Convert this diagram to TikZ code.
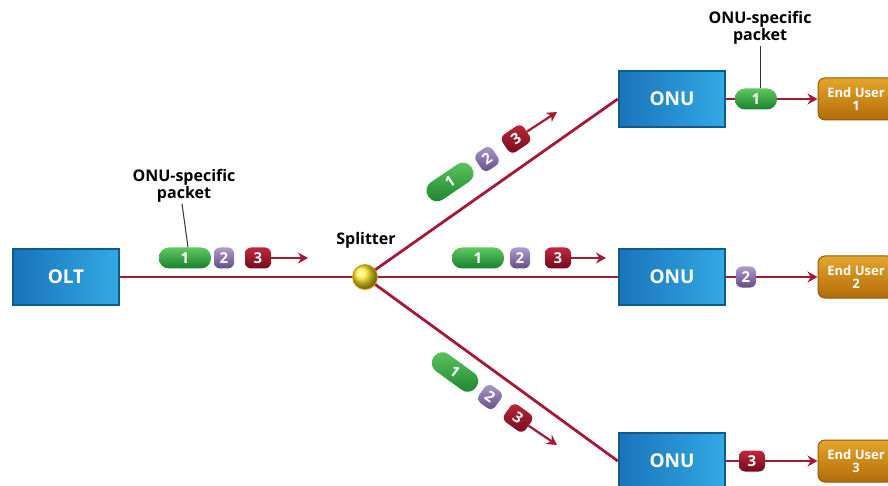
\documentclass[tikz,border=0pt]{standalone}
\usepackage{fontspec}
\setmainfont{Open Sans}
\usetikzlibrary{arrows.meta,shapes.geometric}
\definecolor{fibre}{RGB}{165,25,55}
\definecolor{boxedge}{RGB}{15,90,145}
\definecolor{boxlo}{RGB}{25,115,185}
\definecolor{boxhi}{RGB}{50,170,228}
\definecolor{gtop}{RGB}{95,200,95}
\definecolor{gbot}{RGB}{25,130,45}
\definecolor{ptop}{RGB}{175,155,205}
\definecolor{pbot}{RGB}{100,75,135}
\definecolor{rtop}{RGB}{190,40,60}
\definecolor{rbot}{RGB}{115,10,28}
\definecolor{eutop}{RGB}{228,165,45}
\definecolor{eubot}{RGB}{178,108,8}
\definecolor{euedge}{RGB}{150,90,10}
\definecolor{splc}{RGB}{255,235,40}
\definecolor{spledge}{RGB}{205,150,20}
\tikzset{
  unitbox/.style={draw=boxedge, line width=2.5pt, left color=boxlo, right color=boxhi,
    minimum width=106pt, minimum height=56pt, text=white, font=\bfseries\fontsize{19}{19}\selectfont},
  eubox/.style={draw=euedge, line width=1pt, rounded corners=7pt, top color=eutop, bottom color=eubot,
    minimum width=76pt, minimum height=42pt, text=white, align=center, inner sep=1pt,
    font=\bfseries\fontsize{13}{13}\selectfont},
  pkg/.style={rounded corners=10pt, top color=gtop, bottom color=gbot, minimum width=52pt,
    minimum height=21pt, inner sep=0pt, text=white, font=\bfseries\fontsize{15}{15}\selectfont},
  pkp/.style={rounded corners=6pt, top color=ptop, bottom color=pbot, minimum width=20pt,
    minimum height=21pt, inner sep=0pt, text=white, font=\bfseries\fontsize{15}{15}\selectfont},
  pkr/.style={rounded corners=6pt, top color=rtop, bottom color=rbot, minimum width=26pt,
    minimum height=21pt, inner sep=0pt, text=white, font=\bfseries\fontsize{15}{15}\selectfont},
  fibreline/.style={draw=fibre, line width=2.8pt},
  pkarrow/.style={draw=fibre, line width=2.2pt, -{Stealth[length=10pt,width=11pt]}},
  lbl/.style={align=center, font=\bfseries\fontsize{16}{17}\selectfont, inner sep=1pt},
  leader/.style={draw=black!80, line width=1pt}
}
\begin{document}
\begin{tikzpicture}[x=1pt,y=1pt]
\useasboundingbox (0,0) rectangle (888,485);
\clip (0,0) rectangle (888,485);
\fill[white] (0,0) rectangle (888,485);

% main boxes
\node[unitbox] (olt) at (66,208) {OLT};
\node[unitbox] (onu1) at (672,386) {ONU};
\node[unitbox] (onu2) at (672,208) {ONU};
\node[unitbox] (onu3) at (672,24) {ONU};
\node[eubox] (eu1) at (856,386) {End User\\1};
\node[eubox] (eu2) at (856,208) {End User\\2};
\node[eubox] (eu3) at (856,24) {End User\\3};

% splitter
\node[circle, minimum size=25pt, inner sep=0pt] (spl) at (365,208) {};
\node[lbl] (spltxt) at (366,245) {Splitter};

% fibres
\draw[fibreline] (olt.east) -- (spl.center);
\draw[fibreline] (spl.center) -- (onu1.west);
\draw[fibreline] (spl.center) -- (onu2.west);
\draw[fibreline] (spl.center) -- (onu3.west);
\shade[ball color=splc, draw=spledge, line width=0.8pt] (spl.center) circle (12.5pt);

% OLT line packets
\node[pkg] (a1) at (185,227) {1};
\node[pkp] (a2) at (224,227) {2};
\node[pkr] (a3) at (258,227) {3};
\coordinate (aend) at (308,227);
\draw[pkarrow] (a3.east) -- (aend);
\node[lbl] (lblA) at (184,299) {ONU-specific\\packet};
\draw[leader] ([xshift=-2pt]lblA.south) -- ([xshift=3pt]a1.north);

% middle line packets
\node[pkg] (m1) at (478,227) {1};
\node[pkp] (m2) at (520,227) {2};
\node[pkr] (m3) at (558,227) {3};
\coordinate (mend) at (606,227);
\draw[pkarrow] (m3.east) -- (mend);

% upper diagonal packets
\node[pkg, rotate=34] (u1) at (450,303) {1};
\node[pkp, rotate=34] (u2) at (487,326) {2};
\node[pkr, rotate=34] (u3) at (516,346) {3};
\coordinate (uend) at (557,373);
\draw[pkarrow] (u3.east) -- (uend);

% lower diagonal packets
\node[pkg, rotate=-36] (d1) at (455,113) {1};
\node[pkp, rotate=-36] (d2) at (490,88) {2};
\node[pkr, rotate=-36] (d3) at (518,67) {3};
\coordinate (dend) at (557,40);
\draw[pkarrow] (d3.east) -- (dend);

% ONU outputs
\node[pkg, minimum width=42pt] (o1) at (756,386) {1};
\draw[fibreline, line width=2.2pt] (onu1.east) -- (o1.west);
\draw[pkarrow] (o1.east) -- (eu1.west);
\node[lbl] (lblB) at (760,457) {ONU-specific\\packet};
\draw[leader] (lblB.south) -- (o1.north -| lblB.south);

\node[pkp] (o2) at (746,208) {2};
\draw[fibreline, line width=2.2pt] (onu2.east) -- (o2.west);
\draw[pkarrow] (o2.east) -- (eu2.west);

\node[pkr] (o3) at (752,24) {3};
\draw[fibreline, line width=2.2pt] (onu3.east) -- (o3.west);
\draw[pkarrow] (o3.east) -- (eu3.west);
\end{tikzpicture}
\end{document}
